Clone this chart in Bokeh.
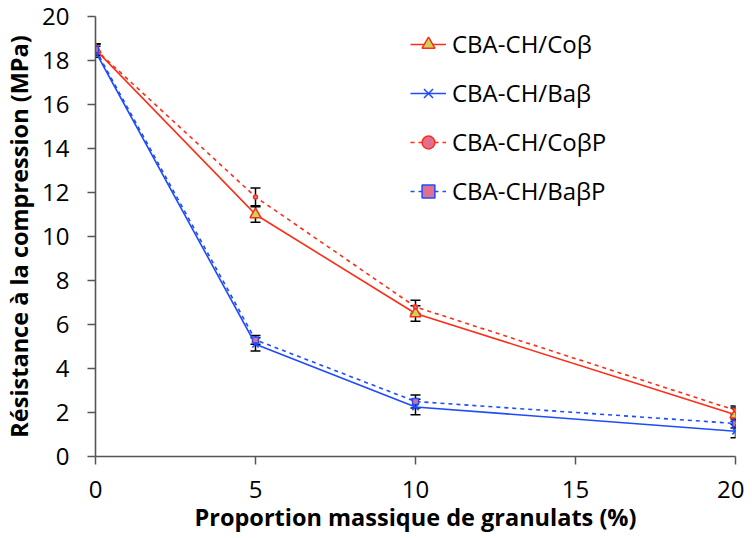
from bokeh.plotting import figure
from bokeh.models import ColumnDataSource, Whisker, Legend, LegendItem, FixedTicker, TeeHead
from bokeh.embed import file_html
from bokeh.resources import INLINE

x = [0, 5, 10, 20]
co_b = [18.5, 11.0, 6.5, 1.9]
co_b_err = [0.25, 0.35, 0.35, 0.3]
ba_b = [18.4, 5.1, 2.25, 1.15]
ba_b_err = [0.25, 0.3, 0.35, 0.3]
co_bp = [18.5, 11.8, 6.8, 2.1]
co_bp_err = [0.25, 0.4, 0.3, 0.2]
ba_bp = [18.5, 5.3, 2.5, 1.5]
ba_bp_err = [0.25, 0.2, 0.3, 0.2]
names = ["CBA-CH/Coβ", "CBA-CH/Baβ", "CBA-CH/CoβP", "CBA-CH/BaβP"]
x_ticks = [0, 5, 10, 15, 20]
y_ticks = list(range(0, 21, 2))

RED = "#FF2D16"
BLUE = "#1E4BFF"
FONT = "Open Sans"

p = figure(width=744, height=538, output_backend="svg", toolbar_location=None,
           x_range=(0, 20), y_range=(0, 20),
           min_border_left=94, min_border_top=16, min_border_right=9, min_border_bottom=82)
p.outline_line_color = None
p.xgrid.visible = False
p.ygrid.visible = False

series = [
    (co_b, co_b_err, RED, "solid", "triangle", "#C8D45A", RED, 11),
    (ba_b, ba_b_err, BLUE, "solid", "x", BLUE, BLUE, 9),
    (co_bp, co_bp_err, RED, "4 4", "circle", "#E07090", RED, 4),
    (ba_bp, ba_bp_err, BLUE, "4 4", "square", "#E07090", BLUE, 6),
]

items = []
renderers = []
for (ys, errs, col, dash, mk, fill, mline, sz), name in zip(series, names):
    src = ColumnDataSource(dict(x=x, y=ys,
                                upper=[a + b for a, b in zip(ys, errs)],
                                lower=[a - b for a, b in zip(ys, errs)]))
    l = p.line("x", "y", source=src, line_color=col, line_width=1.6, line_dash=dash)
    w = Whisker(source=src, base="x", upper="upper", lower="lower",
                line_color="black", line_width=1.5,
                upper_head=TeeHead(size=10, line_color="black", line_width=1.5),
                lower_head=TeeHead(size=10, line_color="black", line_width=1.5))
    p.add_layout(w)
    renderers.append((l, src, mk, fill, mline, sz, name))

for l, src, mk, fill, mline, sz, name in renderers:
    s = p.scatter("x", "y", source=src, marker=mk, size=sz, fill_color=fill,
                  line_color=mline, line_width=1.5)
    items.append(LegendItem(label=name, renderers=[l, s]))

legend = Legend(items=items, location=(315, 249), border_line_color=None,
                background_fill_alpha=0, padding=0, margin=0, spacing=16,
                label_height=32, glyph_height=32, glyph_width=36, label_standoff=6,
                label_text_font=FONT, label_text_font_size="24px",
                label_text_color="black")
p.add_layout(legend)

for ax in (p.xaxis[0], p.yaxis[0]):
    ax.axis_line_color = "#555555"
    ax.axis_line_width = 1.6
    ax.major_tick_line_color = "#555555"
    ax.major_tick_line_width = 1.5
    ax.major_tick_out = 8
    ax.major_tick_in = 0
    ax.minor_tick_line_color = None
    ax.major_label_text_font = FONT
    ax.major_label_text_font_size = "24px"
    ax.major_label_text_color = "black"
    ax.axis_label_text_font = FONT
    ax.axis_label_text_font_style = "bold"
    ax.axis_label_text_font_size = "23.5px"
    ax.axis_label_text_color = "black"

p.xaxis.ticker = FixedTicker(ticks=x_ticks)
p.yaxis.ticker = FixedTicker(ticks=y_ticks)
p.xaxis.axis_label = "Proportion massique de granulats (%)"
p.yaxis.axis_label = "Résistance à la compression (MPa)"
p.xaxis.major_label_standoff = 16
p.yaxis.major_label_standoff = 18
p.xaxis.axis_label_standoff = 0
p.yaxis.axis_label_standoff = 4

open("out.html", "w").write(file_html(p, INLINE))
